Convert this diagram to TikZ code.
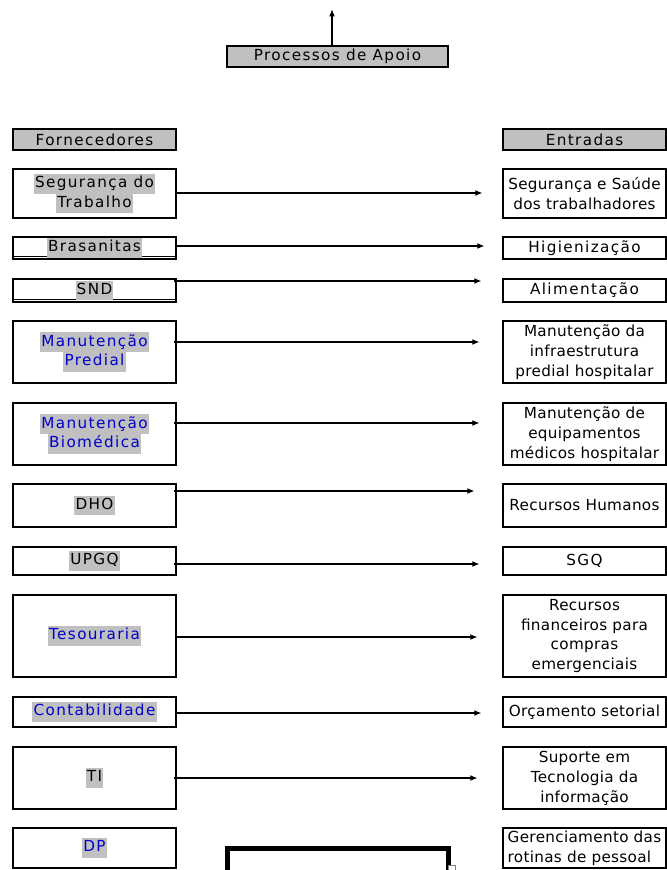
\documentclass[tikz,border=0pt]{standalone}
\usepackage{fontspec}
\setmainfont{DejaVu Sans}
\newfontfamily\widefont{DejaVu Sans}[LetterSpace=9]
\newfontfamily\tightfont{DejaVu Sans}[LetterSpace=2]
\usetikzlibrary{calc,arrows.meta}
\tikzset{>={Latex[length=6pt,width=5pt]}}
\definecolor{hlgray}{RGB}{192,192,192}
\definecolor{txtblue}{RGB}{0,0,205}
\newcommand{\hl}[1]{{\setlength{\fboxsep}{0pt}\colorbox{hlgray}{\strut\kern1pt #1\kern1pt}}}
\tikzset{
  supplier/.style={draw, line width=1.1pt, inner sep=0pt, minimum width=4.89cm, align=center, font=\widefont\fontsize{13}{17}\selectfont},
  headbox/.style={supplier, fill=hlgray, minimum height=0.63cm},
  entrybox/.style={supplier, font=\tightfont\fontsize{13}{17}\selectfont},
  underbar/.style={path picture={\draw[line width=0.8pt] ([yshift=1.8pt]path picture bounding box.south west) -- ([yshift=1.8pt]path picture bounding box.south east);}},
  flow/.style={->, line width=0.9pt},
}

\begin{document}
\begin{tikzpicture}[x=0.03cm, y=-0.03cm]

\useasboundingbox (0,0) rectangle (666,870);

% topo
\node[headbox, minimum width=6.63cm] (proc) at (337.5,56.5) {Processos de Apoio};
\draw[flow] ($(proc.north)+(-5.5,0)$) -- ($(proc.north)+(-5.5,-36)$);

% cabecalhos
\node[headbox] (forn) at (94.5,139.5) {Fornecedores};
\node[headbox] (entr) at (584.5,139.5) {Entradas};

% fornecedores
\node[supplier, minimum height=1.47cm] (segF) at (94.5,193.5) {\hl{Segurança do}\\\hl{Trabalho}};
\node[supplier, underbar, minimum height=0.66cm] (brasF) at (94.5,248) {\hl{Brasanitas}};
\node[supplier, underbar, minimum height=0.69cm] (sndF) at (94.5,290.5) {\hl{SND}};
\node[supplier, text=txtblue, minimum height=1.86cm] (predF) at (94.5,352) {\hl{Manutenção}\\\hl{Predial}};
\node[supplier, text=txtblue, minimum height=1.86cm] (biomF) at (94.5,434) {\hl{Manutenção}\\\hl{Biomédica}};
\node[supplier, minimum height=1.29cm] (dhoF) at (94.5,505.5) {\hl{DHO}};
\node[supplier, minimum height=0.84cm] (upgqF) at (94.5,561) {\hl{UPGQ}};
\node[supplier, text=txtblue, minimum height=2.46cm] (tesF) at (94.5,636) {\hl{Tesouraria}};
\node[supplier, text=txtblue, minimum height=0.9cm] (contF) at (94.5,712) {\hl{Contabilidade}};
\node[supplier, minimum height=1.86cm] (tiF) at (94.5,778) {\hl{TI}};
\node[supplier, text=txtblue, minimum height=1.2cm] (dpF) at (94.5,848) {\hl{DP}};

% entradas
\node[entrybox, minimum height=1.47cm] (segE) at (584.5,193.5) {Segurança e Saúde\\dos trabalhadores};
\node[supplier, minimum height=0.66cm] (brasE) at (584.5,248) {Higienização};
\node[supplier, minimum height=0.69cm] (sndE) at (584.5,290.5) {Alimentação};
\node[entrybox, minimum height=1.86cm] (predE) at (584.5,352) {Manutenção da\\infraestrutura\\predial hospitalar};
\node[entrybox, minimum height=1.86cm] (biomE) at (584.5,434) {Manutenção de\\equipamentos\\médicos hospitalar};
\node[entrybox, minimum height=1.29cm] (dhoE) at (584.5,505.5) {Recursos Humanos};
\node[supplier, minimum height=0.84cm] (upgqE) at (584.5,561) {SGQ};
\node[entrybox, minimum height=2.46cm] (tesE) at (584.5,636) {Recursos\\financeiros para\\compras\\emergenciais};
\node[entrybox, minimum height=0.9cm] (contE) at (584.5,712) {Orçamento setorial};
\node[entrybox, minimum height=1.86cm] (tiE) at (584.5,778) {Suporte em\\Tecnologia da\\informação};
\node[entrybox, align=left, minimum height=1.2cm] (dpE) at (584.5,848) {Gerenciamento das\\rotinas de pessoal};

% fluxos
\draw[flow] ($(segF.east)+(0,-0.5)$) -- ($(segE.west)+(-20,-0.5)$);
\draw[flow] ($(brasF.east)+(0,-2)$) -- ($(brasE.west)+(-18,-2)$);
\draw[flow] ($(sndF.east)+(-3,-9.5)$) -- ($(sndE.west)+(-21,-9.5)$);
\draw[flow] ($(predF.east)+(-3,-10)$) -- ($(predE.west)+(-23,-10)$);
\draw[flow] ($(biomF.east)+(-3,-11)$) -- ($(biomE.west)+(-23,-11)$);
\draw[flow] ($(dhoF.east)+(-3,-14.5)$) -- ($(dhoE.west)+(-28,-14.5)$);
\draw[flow] ($(upgqF.east)+(-3,3)$) -- ($(upgqE.west)+(-23,3)$);
\draw[flow] ($(tesF.east)+(0,1)$) -- ($(tesE.west)+(-25,1)$);
\draw[flow] ($(contF.east)+(0,1)$) -- ($(contE.west)+(-21,1)$);
\draw[flow] ($(tiF.east)+(-3,0)$) -- ($(tiE.west)+(-25,0)$);

% caixa inferior
\draw[line width=0.15cm] (227.5,848.5) rectangle (448.5,880);
\draw[gray, fill=white, line width=0.4pt] (448,865) rectangle (455,872);

\end{tikzpicture}
\end{document}
